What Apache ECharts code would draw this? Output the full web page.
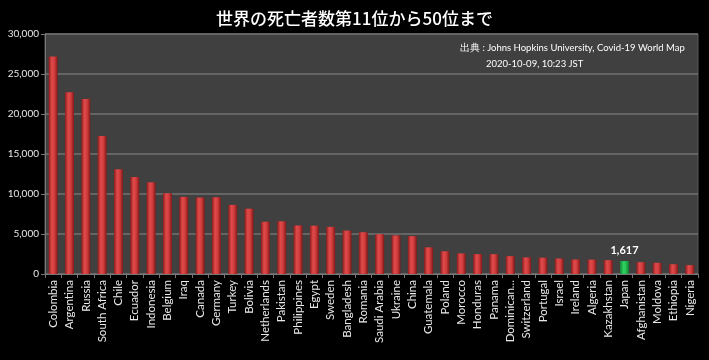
<!DOCTYPE html>
<html><head><meta charset="utf-8">
<script src="https://cdn.jsdelivr.net/npm/echarts@6/dist/echarts.min.js"></script>
<style>html,body{margin:0;padding:0;background:#000;}#c{width:709px;height:360px;}</style>
</head><body><div id="c"></div>
<script>
const titleText = "世界の死亡者数第11位から50位まで";
const sourceLine1 = "出典 : Johns Hopkins University, Covid-19 World Map";
const sourceLine2 = "2020-10-09, 10:23 JST";
const countries = ["Colombia","Argentina","Russia","South Africa","Chile","Ecuador","Indonesia","Belgium","Iraq","Canada","Germany","Turkey","Bolivia","Netherlands","Pakistan","Philippines","Egypt","Sweden","Bangladesh","Romania","Saudi Arabia","Ukraine","China","Guatemala","Poland","Morocco","Honduras","Panama","Dominican...","Switzerland","Portugal","Israel","Ireland","Algeria","Kazakhstan","Japan","Afghanistan","Moldova","Ethiopia","Nigeria"];
const deaths = [27180,22710,21865,17248,13090,12120,11472,10099,9643,9557,9597,8642,8162,6531,6589,6069,6040,5892,5428,5225,4972,4827,4739,3334,2842,2576,2486,2478,2233,2081,2040,1941,1813,1801,1734,1617,1481,1400,1222,1112];
const highlight = "Japan";
const yTicks = [0,5000,10000,15000,20000,25000,30000];

const FONT = 'Lato';
const redGrad = new echarts.graphic.LinearGradient(0,0,1,0,[
  {offset:0,color:'#8e1c1c'},{offset:0.35,color:'#e04a4a'},{offset:0.65,color:'#d03c3c'},{offset:1,color:'#821818'}]);
const greenGrad = new echarts.graphic.LinearGradient(0,0,1,0,[
  {offset:0,color:'#158a35'},{offset:0.4,color:'#2fd060'},{offset:0.65,color:'#25c052'},{offset:1,color:'#127a2e'}]);

const data = countries.map((c,i)=>{
  const o = {value: deaths[i]};
  if (c === highlight) {
    o.itemStyle = {color: greenGrad};
    o.label = {show:true, position:'top', color:'#fff', fontWeight:'bold', fontSize:11, fontFamily:FONT, distance:5,
      formatter: p => p.value.toLocaleString('en-US')};
  }
  return o;
});

const chart = echarts.init(document.getElementById('c'), null, {renderer:'canvas'});
chart.setOption({
  backgroundColor:'#000',
  animation:false,
  title:{text:titleText, left:'center', top:5, textStyle:{color:'#fff', fontSize:17, fontWeight:500, fontFamily:'Noto Sans CJK JP'}},
  graphic:[
    {type:'text', left:460, top:43, style:{text:sourceLine1, fill:'#fff', font:'9.5px '+FONT}},
    {type:'text', left:486, top:59, style:{text:sourceLine2, fill:'#fff', font:'9.5px '+FONT}}
  ],
  grid:{left:45, right:11, top:34, bottom:86, show:true, backgroundColor:'#404040', borderColor:'#5a5a5a', borderWidth:1},
  xAxis:{type:'category', data:countries,
    axisLine:{lineStyle:{color:'#777'}},
    axisTick:{show:true, length:4, lineStyle:{color:'#777'}},
    axisLabel:{rotate:90, interval:0, color:'#e8e8e8', fontSize:11.5, fontFamily:FONT, margin:6}},
  yAxis:{type:'value', min:yTicks[0], max:yTicks[yTicks.length-1], interval:5000,
    axisLine:{show:true, lineStyle:{color:'#777'}},
    axisTick:{show:true, length:4, lineStyle:{color:'#777'}},
    splitLine:{lineStyle:{color:'#727272', width:1.5}},
    axisLabel:{color:'#e8e8e8', fontSize:10, fontFamily:FONT, margin:6, formatter: v => v.toLocaleString('en-US')}},
  series:[{type:'bar', data:data, barWidth:'55%', itemStyle:{color:redGrad}}]
});
</script></body></html>
